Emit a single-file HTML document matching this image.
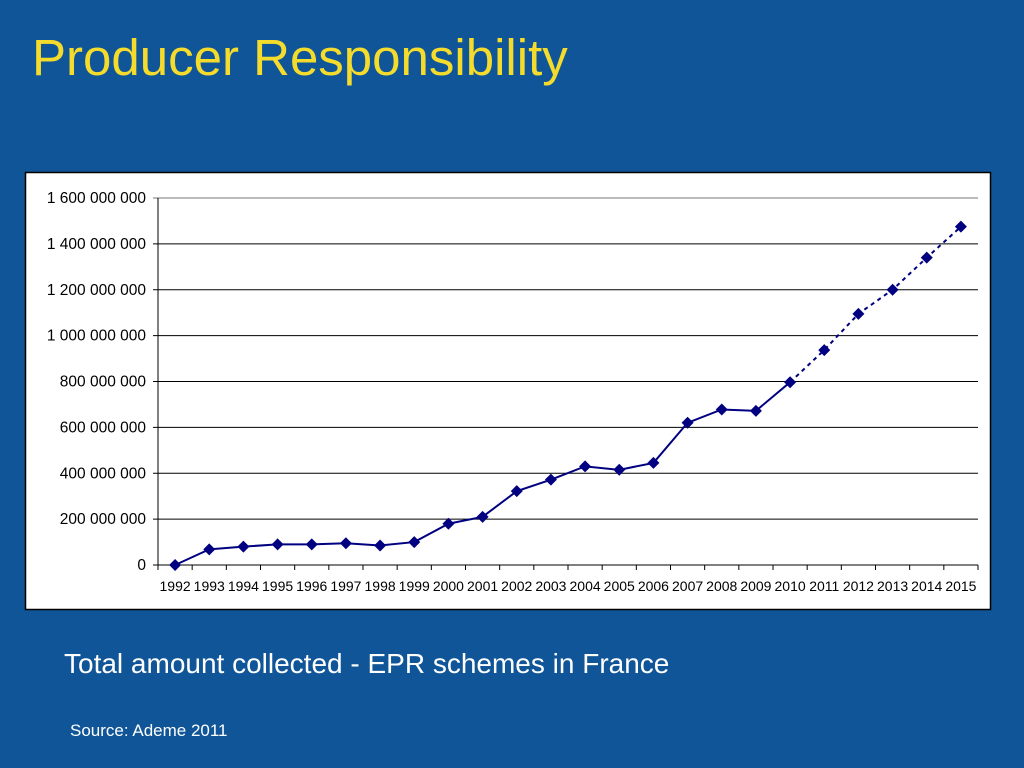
<!DOCTYPE html>
<html><head><meta charset="utf-8"><style>
body{margin:0;width:1024px;height:768px;background:#0f5597;overflow:hidden;font-family:"Liberation Sans",sans-serif;position:relative}
.t{position:absolute;color:#ffd700}
</style></head><body>
<div class="t" style="left:32px;top:28px;font-size:51px;color:#f5dc2c">Producer Responsibility</div>
<svg style="position:absolute;left:0;top:0" width="1024" height="768">
<rect x="25.5" y="172.5" width="965" height="437" fill="#fff" stroke="#000" stroke-width="1.5"/>
<g id="g"></g>
</svg>
<div style="position:absolute;left:64px;top:648px;font-size:28px;color:#fff">Total amount collected - EPR schemes in France</div>
<div style="position:absolute;left:70px;top:721px;font-size:17px;color:#fff">Source: Ademe 2011</div>
<script>
const years=["1992","1993","1994","1995","1996","1997","1998","1999","2000","2001","2002","2003","2004","2005","2006","2007","2008","2009","2010","2011","2012","2013","2014","2015"];
const values=[0,68,80,90,90,95,85,100,180,210,322,372,430,415,445,620,678,672,797,937,1095,1200,1340,1475];
const yTicks=[0,200,400,600,800,1000,1200,1400,1600];
const yTickLabels=["0","200 000 000","400 000 000","600 000 000","800 000 000","1 000 000 000","1 200 000 000","1 400 000 000","1 600 000 000"];
const dashFromIndex=18;
const L=158,R=978,T=198,B=565,NS="http://www.w3.org/2000/svg";
const g=document.getElementById('g');
const cw=(R-L)/years.length;
const x=i=>L+cw*(i+0.5);
const y=v=>B-(v/1600)*(B-T);
function mk(t,a){const e=document.createElementNS(NS,t);for(const k in a)e.setAttribute(k,a[k]);g.appendChild(e);return e;}
yTicks.forEach((v,i)=>{
 const l=mk('line',{x1:L-5,x2:R,y1:y(v),y2:y(v),stroke:i==yTicks.length-1?'#777':'#000','stroke-width':1});
 
 
 const t=mk('text',{x:L-12,y:y(v)+5,'text-anchor':'end','font-size':15.5,'font-family':'Liberation Sans'});
 t.textContent=yTickLabels[i];
 
 
});
const ax=mk('line',{x1:L,x2:L,y1:T,y2:B,stroke:'#000'});


for(let i=0;i<=years.length;i++){
 const tk=mk('line',{x1:L+cw*i,x2:L+cw*i,y1:B,y2:B+5,stroke:'#000'});
 
 
}
years.forEach((yr,i)=>{
 const t=mk('text',{x:x(i),y:B+26,'text-anchor':'middle','font-size':14,'font-family':'Liberation Sans'});
 t.textContent=yr;
 
 
});
const solid=values.slice(0,dashFromIndex+1).map((v,i)=>x(i)+','+y(v)).join(' ');
const dashed=values.map((v,i)=>[i,v]).slice(dashFromIndex).map(([i,v])=>x(i)+','+y(v)).join(' ');
const p1=mk('polyline',{points:solid,fill:'none',stroke:'#000080','stroke-width':2});


const p2=mk('polyline',{points:dashed,fill:'none',stroke:'#000080','stroke-width':2,'stroke-dasharray':'4,4'});


values.forEach((v,i)=>{
 const cx=x(i),cy=y(v),s=6;
 const m=mk('polygon',{points:`${cx},${cy-s} ${cx+s},${cy} ${cx},${cy+s} ${cx-s},${cy}`,fill:'#000080'});
 
 
});
</script>
</body></html>
